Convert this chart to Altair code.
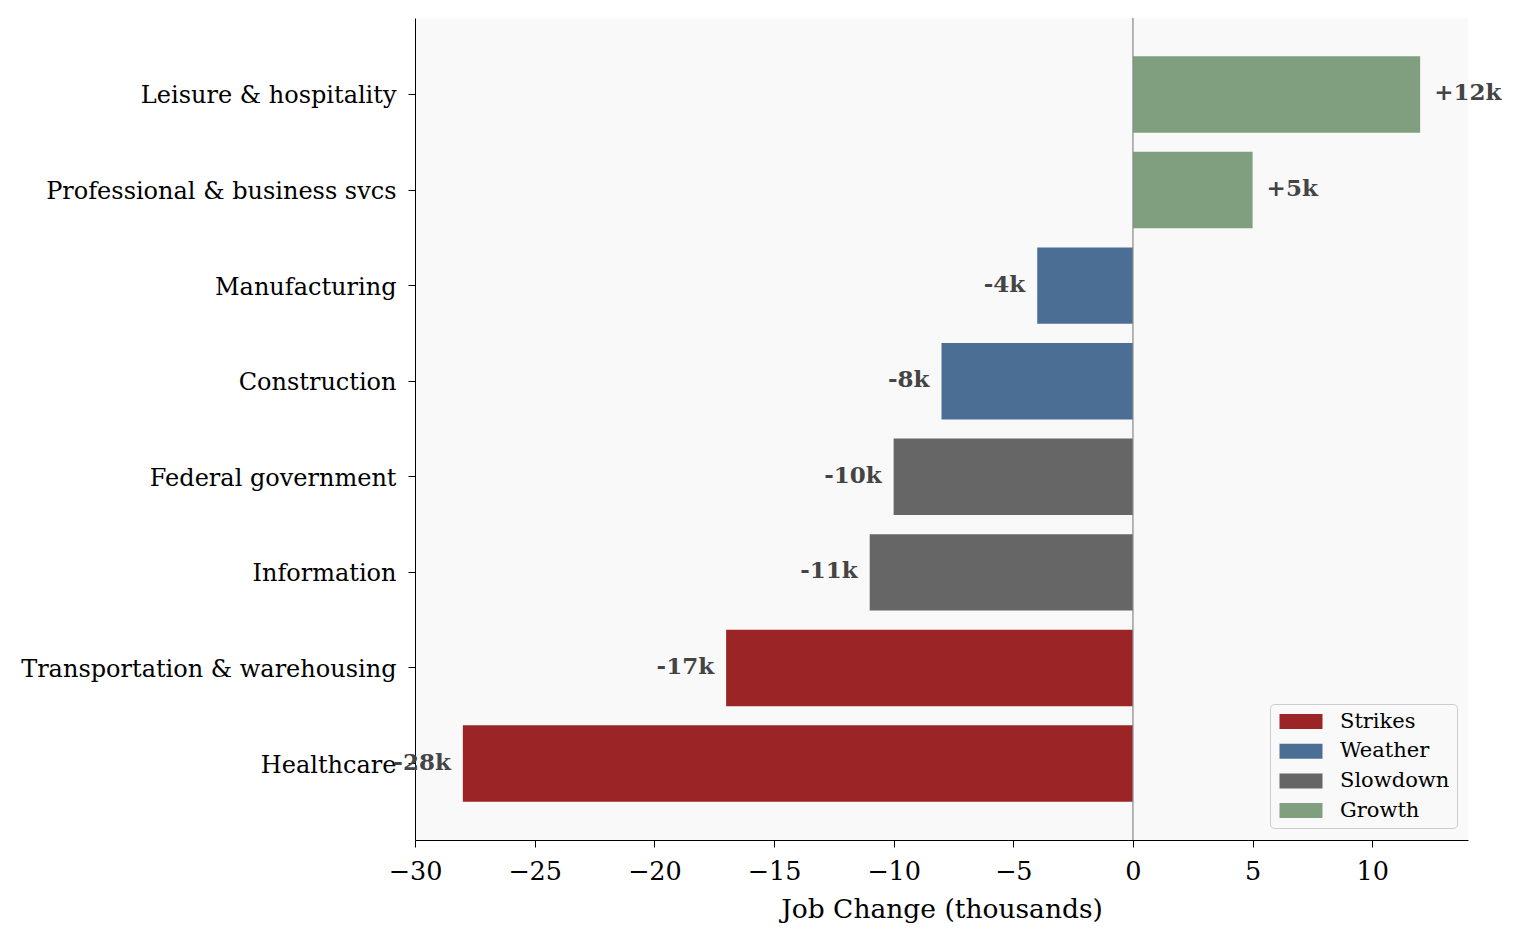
import altair as alt
import pandas as pd

categories = ["Leisure & hospitality", "Professional & business svcs", "Manufacturing",
              "Construction", "Federal government", "Information",
              "Transportation & warehousing", "Healthcare"]
values = [12, 5, -4, -8, -10, -11, -17, -28]
causes = ["Growth", "Growth", "Weather", "Weather", "Slowdown", "Slowdown", "Strikes", "Strikes"]
labels = ["+12k", "+5k", "-4k", "-8k", "-10k", "-11k", "-17k", "-28k"]

cause_order = ["Strikes", "Weather", "Slowdown", "Growth"]
cause_colors = ["#9b2427", "#4b6f94", "#666666", "#7f9f7f"]
x_ticks = [-30, -25, -20, -15, -10, -5, 0, 5, 10]

df = pd.DataFrame({"sector": categories, "change": values, "cause": causes, "label": labels})

FONT = "DejaVu Serif"

y_enc = alt.Y("sector:N", sort=categories, title=None,
              scale=alt.Scale(paddingInner=0.2, paddingOuter=0.4),
              axis=alt.Axis(labelFont=FONT, labelFontSize=24, labelColor="#000000",
                            tickColor="#000000", tickSize=7, domainColor="#000000",
                            labelPadding=12, labelLimit=600, labelOffset=2))
x_enc = alt.X("change:Q", title="Job Change (thousands)",
              scale=alt.Scale(domain=[-30, 14], nice=False, zero=False),
              axis=alt.Axis(values=x_ticks, grid=False, labelFont=FONT, labelFontSize=25.5,
                            labelColor="#000000", tickColor="#000000", tickSize=7,
                            domainColor="#000000", titleFont=FONT, titleFontSize=26.5,
                            titleFontWeight="normal", titleColor="#000000", titlePadding=12,
                            labelPadding=12, labelFlush=False))

base = alt.Chart(df)

bars = base.mark_bar().encode(
    y=y_enc,
    x=x_enc,
    color=alt.Color("cause:N", title=None,
                    scale=alt.Scale(domain=cause_order, range=cause_colors),
                    legend=alt.Legend(orient="none", legendX=855, legendY=686,
                                      symbolType="M-2.15,-0.75H2.15V0.75H-2.15Z",
                                      symbolSize=400, symbolOffset=13.5, labelOffset=28.5,
                                      labelFont=FONT, labelFontSize=21, labelColor="#000000",
                                      padding=7, rowPadding=7.7, strokeColor="#cccccc",
                                      cornerRadius=4, fillColor="#f9f9f9",
                                      symbolStrokeWidth=0)),
)

zero = alt.Chart(pd.DataFrame({"z": [0]})).mark_rule(color="#888888", strokeWidth=1.2).encode(
    x=alt.X("z:Q")
)

pos = base.transform_filter(alt.datum.change > 0).mark_text(
    align="left", baseline="middle", dx=14, dy=-1, font=FONT, fontSize=23,
    fontWeight="bold", color="#444444"
).encode(y=alt.Y("sector:N", sort=categories), x=alt.X("change:Q"), text="label:N")

neg = base.transform_filter(alt.datum.change < 0).mark_text(
    align="right", baseline="middle", dx=-12, dy=-1, font=FONT, fontSize=23,
    fontWeight="bold", color="#444444"
).encode(y=alt.Y("sector:N", sort=categories), x=alt.X("change:Q"), text="label:N")

chart = alt.layer(bars, zero, pos, neg).properties(
    width=1053, height=822,
    autosize=alt.AutoSizeParams(type="none"),
    padding={"left": 407, "top": 10, "right": 40, "bottom": 100},
).configure_view(fill="#f9f9f9", stroke=None)

chart.save("out.html", embed_options={"renderer": "svg", "actions": False})
